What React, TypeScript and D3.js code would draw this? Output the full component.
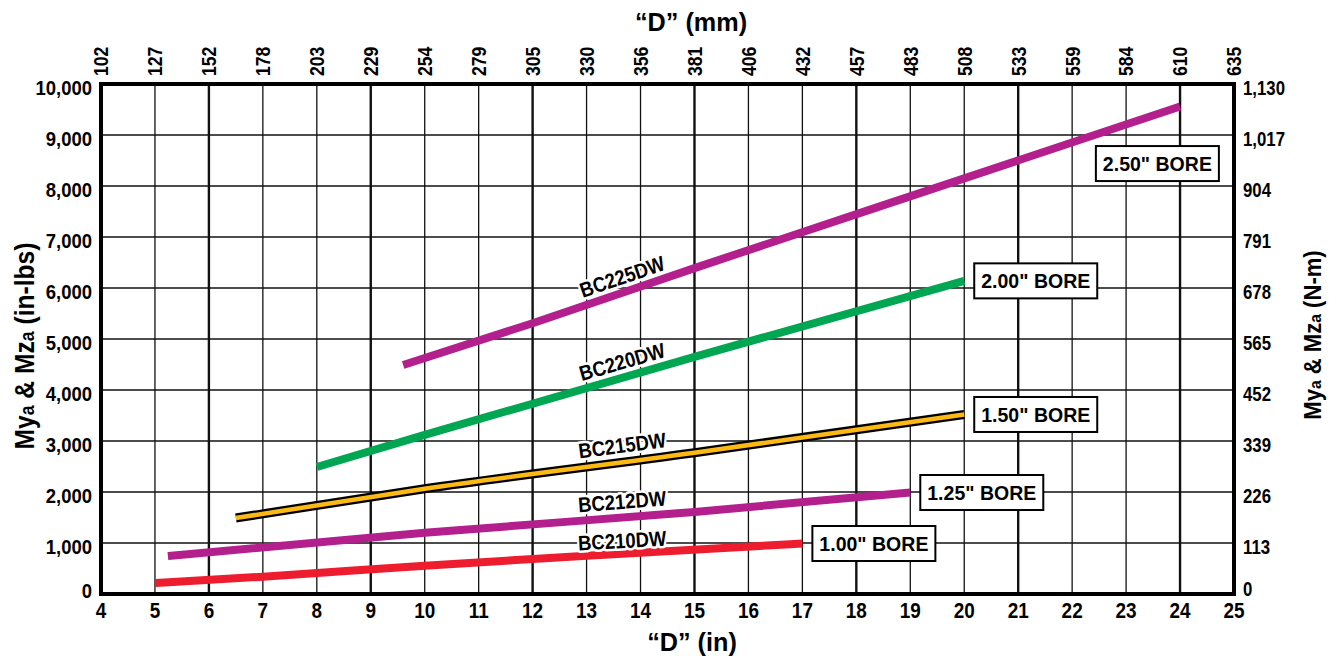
import React from "react";
import * as d3 from "d3";

// ---------- data ----------
const xTicksIn = [4, 5, 6, 7, 8, 9, 10, 11, 12, 13, 14, 15, 16, 17, 18, 19, 20, 21, 22, 23, 24, 25];
const xTicksMm = ["102", "127", "152", "178", "203", "229", "254", "279", "305", "330", "356", "381", "406", "432", "457", "483", "508", "533", "559", "584", "610", "635"];
const yTicksLeft = [0, 1000, 2000, 3000, 4000, 5000, 6000, 7000, 8000, 9000, 10000];
const yTicksRight = ["0", "113", "226", "339", "452", "565", "678", "791", "904", "1,017", "1,130"];

const seriesNames = ["BC210DW", "BC212DW", "BC215DW", "BC220DW", "BC225DW"];
const boreLabels = ['1.00" BORE', '1.25" BORE', '1.50" BORE', '2.00" BORE', '2.50" BORE'];

const bc210x = [5, 7, 10, 13, 17];
const bc210y = [215, 340, 555, 750, 990];
const bc212x = [5.24, 10, 15, 19];
const bc212y = [745, 1200, 1610, 1990];
const bc215x = [6.5, 10, 15, 20];
const bc215y = [1490, 2065, 2770, 3520];
const bc220x = [8, 10, 15, 20];
const bc220y = [2490, 3120, 4650, 6140];
const bc225x = [9.6, 12, 15, 20, 24];
const bc225y = [4490, 5310, 6390, 8150, 9560];

const seriesX = [bc210x, bc212x, bc215x, bc220x, bc225x];
const seriesY = [bc210y, bc212y, bc215y, bc220y, bc225y];

// label anchor on line (inches) and bore box anchor for 2.50" (left edge x, centre y)
const labelAt = 13.66;
const bore250Anchor = [22.44, 8440];

// ---------- style ----------
const colors = ["#ED1C2E", "#B41F8E", "#FDB913", "#00A651", "#B41F8E"];
const FONT = "'Liberation Sans', Arial, Helvetica, sans-serif";
const labelOffsets = [13, 16, 17, 16, 16];

const W = 1336, H = 658;
const x = d3.scaleLinear().domain([4, 25]).range([101, 1234]);
const y = d3.scaleLinear().domain([0, 10000]).range([594, 84]);
const yR = d3.scaleLinear().domain([0, 1130]).range([594, 84]);

function T({ x, y, r = 0, sx = 1, size, anchor = "middle", dy = "0.35em", children, halo = false }: any) {
  return (
    <g transform={`translate(${x},${y}) rotate(${r}) scale(${sx},1)`}>
      <text
        textAnchor={anchor}
        dy={dy}
        fontSize={size}
        fontWeight="bold"
        fontFamily={FONT}
        fill="#000"
        stroke={halo ? "#fff" : "none"}
        strokeWidth={halo ? 5 : 0}
        strokeLinejoin="round"
        style={{ paintOrder: "stroke" } as any}
      >
        {children}
      </text>
    </g>
  );
}

function interp(xs: number[], ys: number[], v: number) {
  const f = d3.scaleLinear().domain(xs).range(ys);
  return f(v);
}

export default function App() {
  const line = d3
    .line<[number, number]>()
    .x((d) => x(d[0]))
    .y((d) => y(d[1]))
    .curve(d3.curveMonotoneX);

  const paths = seriesX.map((xs, i) => line(xs.map((v, j) => [v, seriesY[i][j]]) as [number, number][]) as string);

  const boxW = 123, boxH = 35;

  return (
    <svg width={W} height={H} style={{ position: "absolute", left: 0, top: 0, background: "#fff" }}>
      <rect x={0} y={0} width={W} height={H} fill="#fff" />
      {/* grid */}
      {xTicksIn.slice(1, -1).map((t) => (
        <line key={"vx" + t} x1={x(t)} x2={x(t)} y1={y(10000)} y2={y(0)} stroke="#111" strokeWidth={(t - 6) % 3 === 0 ? 2.4 : 1.3} />
      ))}
      {yTicksLeft.slice(1, -1).map((t) => (
        <line key={"hy" + t} x1={x(4)} x2={x(25)} y1={y(t)} y2={y(t)} stroke="#111" strokeWidth={1.4} />
      ))}

      {/* series lines */}
      {paths.map((p, i) =>
        i === 2 ? (
          <g key={"s" + i}>
            <path d={p} fill="none" stroke="#000" strokeWidth={9} strokeLinecap="butt" />
            <path d={p} fill="none" stroke={colors[i]} strokeWidth={4.5} strokeLinecap="butt" />
          </g>
        ) : (
          <path key={"s" + i} d={p} fill="none" stroke={colors[i]} strokeWidth={8} strokeLinecap="butt" />
        )
      )}

      {/* series labels */}
      {seriesNames.map((name, i) => {
        const xs = seriesX[i], ys = seriesY[i];
        const vy = interp(xs, ys, labelAt);
        const v2 = interp(xs, ys, labelAt + 0.5);
        const v1 = interp(xs, ys, labelAt - 0.5);
        const ang = (Math.atan2(y(v2) - y(v1), x(labelAt + 0.5) - x(labelAt - 0.5)) * 180) / Math.PI;
        return (
          <T key={"l" + i} x={x(labelAt)} y={y(vy) - labelOffsets[i]} r={ang} sx={0.88} size={21} halo>
            {name}
          </T>
        );
      })}

      {/* bore boxes */}
      {boreLabels.map((b, i) => {
        const xs = seriesX[i], ys = seriesY[i];
        let left: number, cy: number;
        if (i === 4) {
          left = x(bore250Anchor[0]);
          cy = y(bore250Anchor[1]);
        } else {
          left = x(xs[xs.length - 1]) + 10;
          cy = y(ys[ys.length - 1]);
        }
        return (
          <g key={"b" + i}>
            <rect x={left} y={cy - boxH / 2} width={boxW} height={boxH} fill="#fff" stroke="#000" strokeWidth={2} />
            <T x={left + boxW / 2} y={cy} sx={0.93} size={21}>
              {b}
            </T>
          </g>
        );
      })}

      {/* frame */}
      <rect x={x(4)} y={y(10000)} width={x(25) - x(4)} height={y(0) - y(10000)} fill="none" stroke="#000" strokeWidth={4} />

      {/* left ticks */}
      {yTicksLeft.map((t) => (
        <T key={"yl" + t} x={92} y={y(t) + (t === 0 ? -3 : 3.5)} anchor="end" sx={0.88} size={21}>
          {d3.format(",")(t)}
        </T>
      ))}
      {/* right ticks */}
      {yTicksRight.map((t, i) => (
        <T key={"yr" + i} x={1243} y={yR(i * 113) + (i === 0 ? -5 : 3.5)} anchor="start" sx={0.84} size={20}>
          {t}
        </T>
      ))}
      {/* bottom ticks */}
      {xTicksIn.map((t) => (
        <T key={"xb" + t} x={x(t)} y={610.5} sx={0.86} size={22}>
          {t}
        </T>
      ))}
      {/* top ticks (mm) */}
      {xTicksIn.map((t, i) => (
        <T key={"xt" + t} x={x(t)} y={76} r={-90} anchor="start" sx={0.84} size={21}>
          {xTicksMm[i]}
        </T>
      ))}

      {/* titles */}
      <T x={691} y={31} dy="0" sx={0.97} size={26}>
        “D” (mm)
      </T>
      <T x={692} y={651} dy="0" sx={0.97} size={26}>
        “D” (in)
      </T>
      <T x={24} y={346} r={-90} sx={0.88} size={28}>
        My<tspan fontSize={20}>a</tspan> &amp; Mz<tspan fontSize={20}>a</tspan> (in-lbs)
      </T>
      <T x={1313} y={335} r={-90} sx={0.92} size={24}>
        My<tspan fontSize={17}>a</tspan> &amp; Mz<tspan fontSize={17}>a</tspan> (N-m)
      </T>
    </svg>
  );
}
